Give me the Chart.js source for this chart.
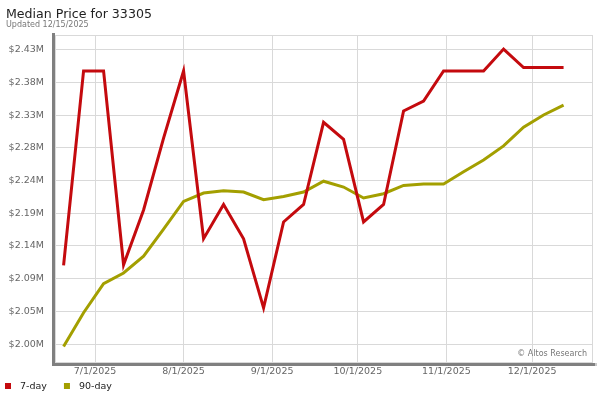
<!DOCTYPE html>
<html>
<head>
<meta charset="utf-8">
<script src="https://cdn.jsdelivr.net/npm/chart.js@4/dist/chart.umd.min.js"></script>
<style>
  html, body { margin: 0; padding: 0; background: #fff; }
  #wrap { width: 600px; height: 400px; position: relative; }
</style>
</head>
<body>
<div id="wrap"><canvas id="chart" width="600" height="400"></canvas></div>
<script>
// Median Price for 33305 - weekly 7-day / 90-day medians

var titleText = 'Median Price for 33305';
var subtitleText = 'Updated 12/15/2025';
var watermark = '\u00a9 Altos Research';

var dates = [
  '2025-06-20', '2025-06-27', '2025-07-04', '2025-07-11', '2025-07-18', '2025-07-25',
  '2025-08-01', '2025-08-08', '2025-08-15', '2025-08-22', '2025-08-29',
  '2025-09-05', '2025-09-12', '2025-09-19', '2025-09-26',
  '2025-10-03', '2025-10-10', '2025-10-17', '2025-10-24', '2025-10-31',
  '2025-11-07', '2025-11-14', '2025-11-21', '2025-11-28',
  '2025-12-05', '2025-12-12'
];

var sevenDay = [
  2113000, 2397000, 2397000, 2114000, 2194000, 2299000,
  2397000, 2152000, 2202000, 2152000, 2051000,
  2176500, 2202000, 2322000, 2297000,
  2176500, 2202000, 2338500, 2353000, 2397000,
  2397000, 2397000, 2429000, 2402000,
  2402000, 2402000
];

var ninetyDay = [
  1994700, 2044000, 2086300, 2102000, 2126500, 2166000,
  2206500, 2218700, 2222000, 2220200, 2209000,
  2213800, 2220200, 2236000, 2227500,
  2211500, 2217700, 2229800, 2232000, 2232000,
  2249700, 2267000, 2287500, 2315000,
  2332700, 2347000
];

var yTickValues = [1998000, 2045800, 2093600, 2141400, 2189200, 2237000, 2284800, 2332600, 2380400, 2428200];
var yTickLabels = ['$2.00M', '$2.05M', '$2.09M', '$2.14M', '$2.19M', '$2.24M', '$2.28M', '$2.33M', '$2.38M', '$2.43M'];

var xTickDates = ['2025-07-01', '2025-08-01', '2025-09-01', '2025-10-01', '2025-11-01', '2025-12-01'];
var xTickLabels = ['7/1/2025', '8/1/2025', '9/1/2025', '10/1/2025', '11/1/2025', '12/1/2025'];

var seriesNames = ['7-day', '90-day'];
var seriesColors = ['#c40a0e', '#a39f00'];

// day offsets from 7/1/2025
var base = Date.parse('2025-07-01T00:00:00Z');
function dayOf(s) { return (Date.parse(s + 'T00:00:00Z') - base) / 86400000; }

function pts(vals) {
  var out = [];
  for (var i = 0; i < vals.length; i++) out.push({ x: dayOf(dates[i]), y: vals[i] });
  return out;
}

var FONT = '"DejaVu Sans", sans-serif';

var decor = {
  id: 'decor',
  beforeDatasetsDraw: function (chart) {
    var ctx = chart.ctx, a = chart.chartArea;
    ctx.save();
    ctx.strokeStyle = '#d9d9d9';
    ctx.lineWidth = 1;
    ctx.strokeRect(a.left + 0.5, a.top + 0.5, a.right - a.left - 1, a.bottom - a.top);
    ctx.restore();
  },
  afterDraw: function (chart) {
    var ctx = chart.ctx, a = chart.chartArea;
    ctx.save();
    // axis bars
    ctx.fillStyle = '#808080';
    ctx.fillRect(a.left - 3, a.top - 2, 3, a.bottom - a.top + 5);
    ctx.fillRect(a.left - 3, a.bottom + 1, a.right - a.left + 5, 3);
    ctx.fillStyle = '#c8c8c8';
    ctx.fillRect(a.right + 2, a.bottom + 1, 2, 3);

    // title
    ctx.fillStyle = '#222';
    ctx.textBaseline = 'alphabetic';
    ctx.textAlign = 'left';
    ctx.font = '12.6px ' + FONT;
    ctx.fillText(titleText, 6, 18);
    ctx.fillStyle = '#777';
    ctx.font = '8px ' + FONT;
    ctx.fillText(subtitleText, 6, 27);

    // watermark
    ctx.textAlign = 'right';
    ctx.textBaseline = 'middle';
    ctx.fillStyle = '#777';
    ctx.font = '8px ' + FONT;
    ctx.fillText(watermark, a.right - 6, a.bottom - 8);

    // legend
    ctx.textAlign = 'left';
    ctx.font = '9.5px ' + FONT;
    var lx = 5;
    for (var i = 0; i < seriesNames.length; i++) {
      ctx.fillStyle = seriesColors[i];
      ctx.fillRect(lx, 383, 6, 6);
      ctx.fillStyle = '#222';
      ctx.fillText(seriesNames[i], lx + 15, 386.5);
      lx += 15 + ctx.measureText(seriesNames[i]).width + 17;
    }
    ctx.restore();
  }
};

var ctx = document.getElementById('chart').getContext('2d');
new Chart(ctx, {
  type: 'line',
  data: {
    datasets: [
      { label: seriesNames[0], data: pts(sevenDay), borderColor: seriesColors[0], backgroundColor: seriesColors[0],
        borderWidth: 3, pointRadius: 0, tension: 0, fill: false, borderJoinStyle: 'miter' },
      { label: seriesNames[1], data: pts(ninetyDay), borderColor: seriesColors[1], backgroundColor: seriesColors[1],
        borderWidth: 3, pointRadius: 0, tension: 0, fill: false, borderJoinStyle: 'miter' }
    ]
  },
  options: {
    responsive: false,
    animation: false,
    events: [],
    layout: { padding: { top: 35, left: 0, right: 7, bottom: 20 } },
    plugins: { legend: { display: false }, title: { display: false }, tooltip: { enabled: false } },
    scales: {
      x: {
        type: 'linear',
        min: -14,
        max: 174.3,
        afterBuildTicks: function (s) { s.ticks = xTickDates.map(function (d) { return { value: dayOf(d) }; }); },
        afterFit: function (s) { s.height = 18; },
        ticks: {
          autoSkip: false,
          maxRotation: 0,
          padding: 4,
          color: '#666',
          font: { family: FONT, size: 9.5 },
          callback: function (v) {
            for (var i = 0; i < xTickDates.length; i++) if (dayOf(xTickDates[i]) === v) return xTickLabels[i];
            return '';
          }
        },
        grid: { color: '#d9d9d9', drawTicks: false },
        border: { display: false }
      },
      y: {
        min: 1972000,
        max: 2449500,
        afterBuildTicks: function (s) { s.ticks = yTickValues.map(function (v) { return { value: v }; }); },
        afterFit: function (s) { s.width = 55; },
        ticks: {
          padding: 11,
          color: '#666',
          font: { family: FONT, size: 9.5 },
          callback: function (v) {
            var i = yTickValues.indexOf(v);
            return i >= 0 ? yTickLabels[i] : '';
          }
        },
        grid: { color: '#d9d9d9', drawTicks: false },
        border: { display: false }
      }
    }
  },
  plugins: [decor]
});
</script>
</body>
</html>
